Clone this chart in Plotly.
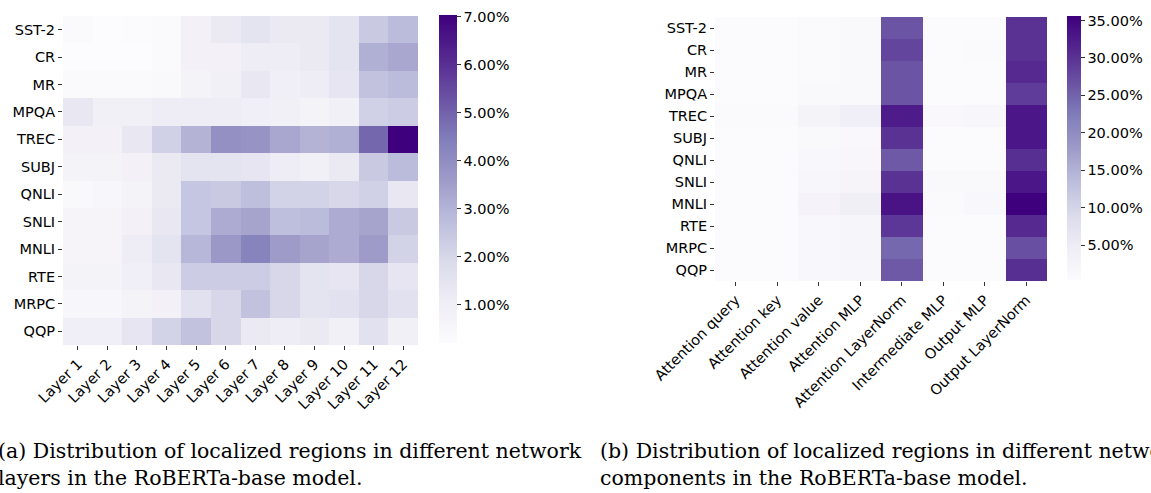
import plotly.graph_objects as go

W, H = 1151, 493

tasks = ["SST-2", "CR", "MR", "MPQA", "TREC", "SUBJ", "QNLI", "SNLI", "MNLI", "RTE", "MRPC", "QQP"]
layers = [f"Layer {i}" for i in range(1, 13)]
components = ["Attention query", "Attention key", "Attention value", "Attention MLP",
              "Attention LayerNorm", "Intermediate MLP", "Output MLP", "Output LayerNorm"]

# Share (%) of localized regions per layer, one row per task
layer_share = [
    [0.3, 0.2, 0.25, 0.3, 0.8, 1.2, 1.5, 1.2, 1.2, 1.5, 2.4, 2.8],   # SST-2
    [0.2, 0.2, 0.2, 0.3, 0.8, 0.8, 1.1, 1.1, 1.2, 1.5, 3.1, 3.3],    # CR
    [0.3, 0.3, 0.3, 0.4, 0.7, 0.9, 1.3, 1.0, 1.1, 1.4, 2.6, 2.8],    # MR
    [1.3, 0.9, 0.9, 1.1, 1.1, 1.1, 1.0, 0.9, 0.7, 0.9, 2.2, 2.3],    # MPQA
    [0.8, 0.8, 1.3, 2.2, 3.0, 3.9, 3.8, 3.3, 3.0, 3.1, 4.9, 7.03],   # TREC
    [0.7, 0.7, 0.8, 1.2, 1.5, 1.5, 1.4, 1.1, 0.9, 1.2, 2.4, 2.8],    # SUBJ
    [0.4, 0.5, 0.7, 1.2, 2.5, 2.4, 2.7, 2.1, 2.1, 2.0, 2.2, 1.3],    # QNLI
    [0.6, 0.6, 0.8, 1.3, 2.5, 3.2, 3.4, 2.7, 2.8, 3.2, 3.4, 2.4],    # SNLI
    [0.6, 0.6, 1.1, 1.5, 2.9, 3.7, 4.3, 3.6, 3.4, 3.2, 3.6, 2.1],    # MNLI
    [0.7, 0.7, 1.0, 1.3, 2.3, 2.3, 2.3, 2.0, 1.5, 1.4, 2.0, 1.4],    # RTE
    [0.5, 0.5, 0.7, 0.8, 1.6, 2.0, 2.6, 2.0, 1.5, 1.6, 2.0, 1.6],    # MRPC
    [1.0, 1.0, 1.4, 2.1, 2.6, 2.0, 1.2, 1.1, 1.2, 0.9, 1.6, 0.9],    # QQP
]

# Share (%) of localized regions per network component
component_share = [
    [0.5, 0.5, 1.0, 1.2, 26.5, 0.8, 0.6, 30.0],   # SST-2
    [0.5, 0.5, 1.0, 1.2, 28.0, 0.8, 0.9, 30.0],   # CR
    [0.5, 0.5, 1.0, 1.2, 26.5, 0.8, 0.7, 31.0],   # MR
    [0.5, 0.5, 1.3, 1.2, 26.5, 0.5, 0.5, 29.0],   # MPQA
    [1.0, 1.1, 3.0, 4.3, 32.5, 1.5, 2.0, 33.0],   # TREC
    [0.5, 0.5, 1.3, 1.5, 30.0, 0.6, 0.5, 33.0],   # SUBJ
    [0.5, 0.5, 1.6, 1.8, 26.0, 0.6, 0.5, 30.5],   # QNLI
    [0.5, 0.5, 2.0, 2.5, 30.0, 1.2, 1.3, 33.0],   # SNLI
    [0.5, 0.5, 2.8, 4.0, 33.5, 1.0, 1.6, 35.6],   # MNLI
    [0.5, 0.5, 1.6, 2.3, 29.5, 0.5, 0.5, 31.0],   # RTE
    [0.5, 0.5, 1.7, 2.2, 24.5, 0.5, 0.5, 27.0],   # MRPC
    [0.5, 0.5, 1.7, 2.0, 26.0, 0.8, 0.5, 30.5],   # QQP
]

layer_ticks = [1, 2, 3, 4, 5, 6, 7]
component_ticks = [5, 10, 15, 20, 25, 30, 35]

captions = [
    "(a) Distribution of localized regions in different network<br>layers in the RoBERTa-base model.",
    "(b) Distribution of localized regions in different network<br>components in the RoBERTa-base model.",
]

TICK_FONT = dict(family="DejaVu Sans", size=14.5, color="black")
CAPTION_FONT = dict(family="DejaVu Serif", size=20.5, color="black")


def px_x(p):
    return p / W


def px_y(p):
    return 1 - p / H


def colorbar(x0, top, bottom, thick, ticks):
    return dict(
        x=px_x(x0), xanchor="left", xpad=0, ypad=0,
        y=px_y((top + bottom) / 2), yanchor="middle",
        len=bottom - top, lenmode="pixels",
        thickness=thick, thicknessmode="pixels",
        outlinewidth=0,
        tickvals=ticks, ticktext=[f"{t:.2f}%" for t in ticks],
        ticks="outside", ticklen=4, tickwidth=1, tickcolor="#333",
        tickfont=TICK_FONT,
    )


fig = go.Figure()

fig.add_trace(go.Heatmap(
    z=layer_share, x=layers, y=tasks,
    colorscale="Purples",
    zmin=0.2, zmax=max(max(r) for r in layer_share),
    colorbar=colorbar(439, 15, 343, 18, layer_ticks),
    xaxis="x", yaxis="y",
))

fig.add_trace(go.Heatmap(
    z=component_share, x=components, y=tasks,
    colorscale="Purples",
    zmin=0.33, zmax=max(max(r) for r in component_share),
    colorbar=colorbar(1067, 16, 280, 14, component_ticks),
    xaxis="x2", yaxis="y2",
))

axis_common = dict(
    showgrid=False, zeroline=False, showline=False, automargin=False,
    ticks="outside", ticklen=4, tickwidth=1, tickcolor="#333",
    tickfont=TICK_FONT,
)

fig.update_layout(
    width=W, height=H,
    margin=dict(l=0, r=0, t=0, b=0, autoexpand=False),
    paper_bgcolor="white", plot_bgcolor="white",
    xaxis=dict(domain=[px_x(63), px_x(418)], anchor="y", tickangle=-45, **axis_common),
    yaxis=dict(domain=[px_y(345), px_y(16)], anchor="x", autorange="reversed", **axis_common),
    xaxis2=dict(domain=[px_x(715), px_x(1047)], anchor="y2", tickangle=-45, **axis_common),
    yaxis2=dict(domain=[px_y(281), px_y(17)], anchor="x2", autorange="reversed", **axis_common),
    annotations=[
        dict(text=captions[0], x=px_x(-4), y=px_y(437), xref="paper", yref="paper",
             xanchor="left", yanchor="top", align="left", showarrow=False,
             font=CAPTION_FONT),
        dict(text=captions[1], x=px_x(598), y=px_y(437), xref="paper", yref="paper",
             xanchor="left", yanchor="top", align="left", showarrow=False,
             font=CAPTION_FONT),
    ],
)

fig.write_html("out.html")
